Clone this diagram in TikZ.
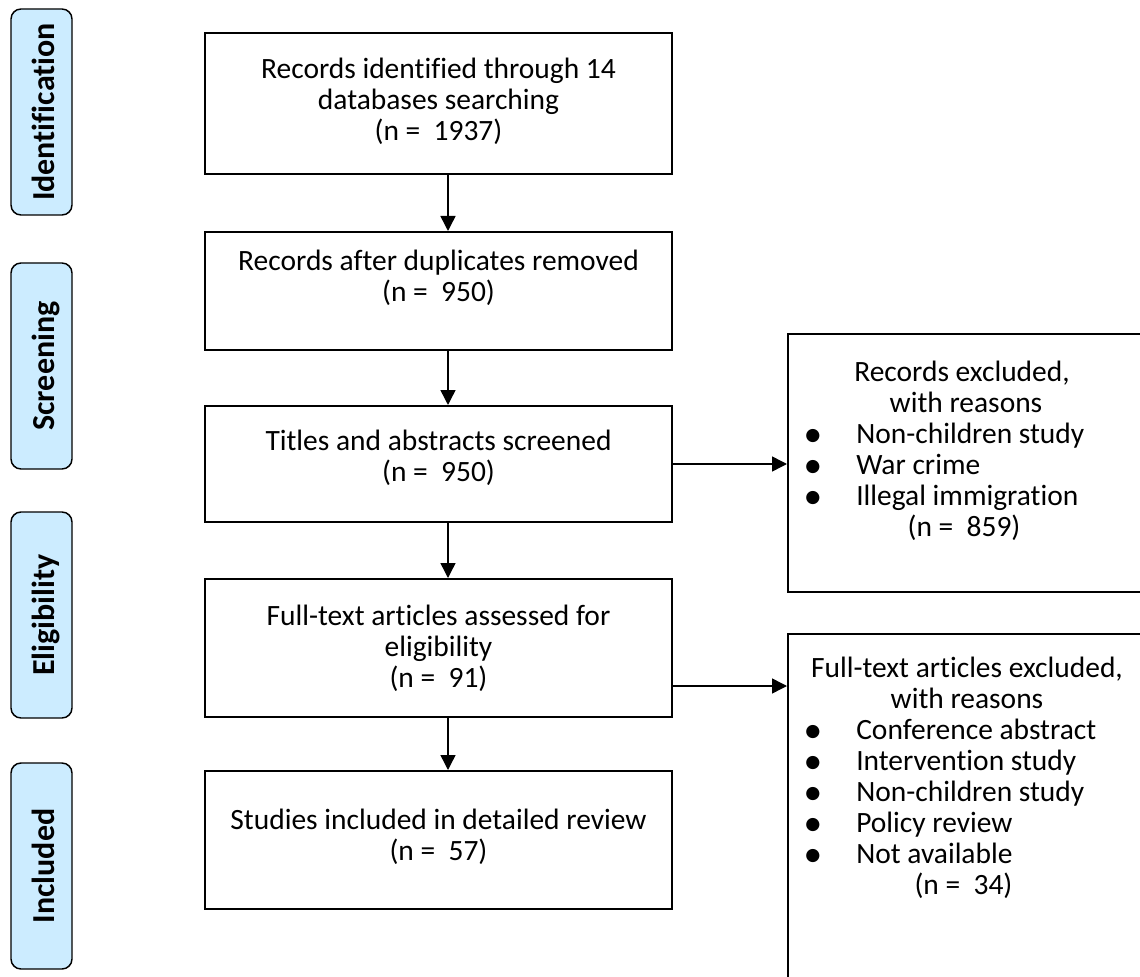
\documentclass[tikz,border=0pt]{standalone}
\usepackage{fontspec}
\setmainfont{Carlito}[Ligatures={NoCommon,NoContextual,NoRequired},RawFeature={-calt}]
\usetikzlibrary{arrows.meta}
\definecolor{sideblue}{RGB}{204,236,255}
\begin{document}
\begin{tikzpicture}[x=0.75pt,y=-0.75pt,
  mainbox/.style={draw=black, line width=1.5pt, rectangle, inner sep=0pt, minimum width=350.25pt},
  sidebox/.style={draw=black, line width=1.1pt, fill=sideblue, rounded corners=7.5pt,
    rotate=90, minimum width=154.5pt, minimum height=45.75pt, inner sep=0pt,
    font=\fontsize{24pt}{28pt}\selectfont\bfseries, text height=20.25pt, text depth=0pt},
  txt/.style={font=\fontsize{22.1pt}{23.25pt}\selectfont, inner sep=0pt, align=center},
  dot/.style={font=\fontsize{28pt}{28pt}\selectfont, inner sep=0pt, anchor=base,
    text height=12pt, text depth=0pt},
  arr/.style={-{Triangle[width=11.25pt,length=11.25pt]}, line width=1.1pt}
]
\useasboundingbox (0,0) rectangle (1140,977);
\clip (0,0) rectangle (1140,977);

% phase labels
\node[sidebox] (s1) at (41.5,112) {Identification};
\node[sidebox] (s2) at (41.5,366) {Screening};
\node[sidebox] (s3) at (41.5,615) {Eligibility};
\node[sidebox] (s4) at (41.5,866) {Included};

% main boxes
\node[mainbox, minimum height=105.75pt] (b1) at (438.5,103.5) {};
\node[mainbox, minimum height=88.5pt]   (b2) at (438.5,291) {};
\node[mainbox, minimum height=87pt]     (b3) at (438.5,464) {};
\node[mainbox, minimum height=103.5pt]  (b4) at (438.5,648) {};
\node[mainbox, minimum height=103.5pt]  (b5) at (438.5,840) {};

\node[txt] (t1) at (438.5,101.5) {Records identified through 14\\databases searching\\(n =~~1937)};
\node[txt] (t2) at (438.5,278) {Records after duplicates removed\\(n =~~950)};
\node[txt] (t3) at (438.5,457.5) {Titles and abstracts screened\\(n =~~950)};
\node[txt] (t4) at (438.5,648.5) {Full-text articles assessed for\\eligibility\\(n =~~91)};
\node[txt] (t5) at (438.5,837) {Studies included in detailed review\\(n =~~57)};

% exclusion boxes
\node[mainbox, minimum width=279pt, minimum height=193.5pt] (r1) at (974,463) {};
\node[mainbox, minimum width=279pt, minimum height=274.5pt] (r2) at (974,817) {};

\node[txt, anchor=base] (r1h1) at (962,381) {Records excluded,};
\node[txt, anchor=base] (r1h2) at (966,412) {with reasons};
\node[dot] (r1d1) at (813,446) {\textbullet};
\node[txt, anchor=base west] (r1i1) at (856,443) {Non-children study};
\node[dot] (r1d2) at (813,477) {\textbullet};
\node[txt, anchor=base west] (r1i2) at (856,474) {War crime};
\node[dot] (r1d3) at (813,508) {\textbullet};
\node[txt, anchor=base west] (r1i3) at (856,505) {Illegal immigration};
\node[txt, anchor=base] (r1n) at (964,536) {(n =~~859)};

\node[txt, anchor=base] (r2h1) at (967,677) {Full-text articles excluded,};
\node[txt, anchor=base] (r2h2) at (967,708) {with reasons};
\node[dot] (r2d1) at (813,742) {\textbullet};
\node[txt, anchor=base west] (r2i1) at (856,739) {Conference abstract};
\node[dot] (r2d2) at (813,773) {\textbullet};
\node[txt, anchor=base west] (r2i2) at (856,770) {Intervention study};
\node[dot] (r2d3) at (813,804) {\textbullet};
\node[txt, anchor=base west] (r2i3) at (856,801) {Non-children study};
\node[dot] (r2d4) at (813,835) {\textbullet};
\node[txt, anchor=base west] (r2i4) at (856,832) {Policy review};
\node[dot] (r2d5) at (813,866) {\textbullet};
\node[txt, anchor=base west] (r2i5) at (856,863) {Not available};
\node[txt, anchor=base] (r2n) at (963.5,894) {(n =~~34)};

% connectors
\coordinate (ax) at (448,0);
\coordinate (ay1) at (0,464);
\coordinate (ay2) at (0,686);
\draw[arr] (b1.south -| ax) -- (b2.north -| ax);
\draw[arr] (b2.south -| ax) -- (b3.north -| ax);
\draw[arr] (b3.south -| ax) -- (b4.north -| ax);
\draw[arr] (b4.south -| ax) -- (b5.north -| ax);
\draw[arr] (b3.east |- ay1) -- (r1.west |- ay1);
\draw[arr] (b4.east |- ay2) -- (r2.west |- ay2);
\end{tikzpicture}
\end{document}
